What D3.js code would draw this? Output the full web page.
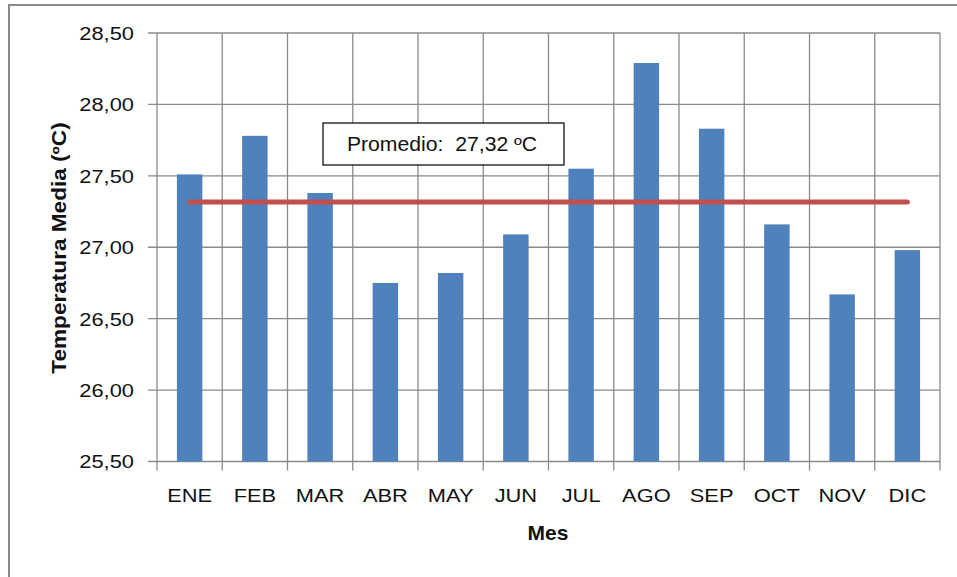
<!DOCTYPE html>
<html>
<head>
<meta charset="utf-8">
<script src="https://cdn.jsdelivr.net/npm/d3@7"></script>
<style>
  body { margin: 0; background: #fff; }
  text { font-family: "Liberation Sans", Arial, sans-serif; fill: #111; }
</style>
</head>
<body>
<div id="chart"></div>
<script>
//Data
const months = ["ENE", "FEB", "MAR", "ABR", "MAY", "JUN", "JUL", "AGO", "SEP", "OCT", "NOV", "DIC"];
const temps = [27.51, 27.78, 27.38, 26.75, 26.82, 27.09, 27.55, 28.29, 27.83, 27.16, 26.67, 26.98];
const yTicks = [25.5, 26.0, 26.5, 27.0, 27.5, 28.0, 28.5];

//Size
const W = 957, H = 577;
const plot = { left: 157, top: 33, right: 940, bottom: 461.5 };
//text in the source is a bit wider than Arial
const stretch = 1.15;

const svg = d3.select("#chart").append("svg")
              .attr("width", W)
              .attr("height", H);

//Outer frame (runs off right and bottom)
svg.append("path")
   .attr("d", "M9," + H + " L9,5 L" + W + ",5")
   .attr("fill", "none")
   .attr("stroke", "#8a8a8a")
   .attr("stroke-width", 2);

//Scales
const xScale = d3.scaleBand()
                 .domain(months)
                 .range([plot.left, plot.right])
                 .paddingInner(0.61)
                 .paddingOuter(0.305);
const step = xScale.step();
const yScale = d3.scaleLinear()
                 .domain([25.5, 28.5])
                 .range([plot.bottom, plot.top]);

const fmt = v => d3.format(".2f")(v).replace(".", ",");

//Horizontal grid + y ticks
svg.append("g")
   .selectAll("line")
   .data(yTicks)
   .enter().append("line")
    .attr("x1", plot.left - 9)
    .attr("x2", plot.right)
    .attr("y1", d => yScale(d))
    .attr("y2", d => yScale(d))
    .attr("stroke", "#8a8a8a")
    .attr("stroke-width", 1.3);

//Vertical grid at category boundaries
const bounds = d3.range(months.length + 1);
svg.append("g")
   .selectAll("line")
   .data(bounds)
   .enter().append("line")
    .attr("x1", i => plot.left + i * step)
    .attr("x2", i => plot.left + i * step)
    .attr("y1", plot.top)
    .attr("y2", plot.bottom + 9)
    .attr("stroke", "#8a8a8a")
    .attr("stroke-width", 1.3);

//Bars
svg.append("g")
   .selectAll("rect")
   .data(temps)
   .enter().append("rect")
    .attr("x", (d, i) => xScale(months[i]))
    .attr("width", xScale.bandwidth())
    .attr("y", d => yScale(d))
    .attr("height", d => yScale(25.5) - yScale(d))
    .attr("fill", "#4f81bd");

//Average line
const avg = d3.mean(temps);
svg.append("line")
   .attr("x1", xScale(months[0]) + xScale.bandwidth() / 2)
   .attr("x2", xScale(months[months.length - 1]) + xScale.bandwidth() / 2)
   .attr("y1", yScale(avg))
   .attr("y2", yScale(avg))
   .attr("stroke", "#c0504d")
   .attr("stroke-width", 5)
   .attr("stroke-linecap", "round");

//Y tick labels
svg.append("g")
   .selectAll("text")
   .data(yTicks)
   .enter().append("text")
    .attr("transform", d => "translate(134," + yScale(d) + ") scale(" + stretch + ",1)")
    .attr("dy", "0.36em")
    .attr("text-anchor", "end")
    .attr("font-size", "19px")
    .text(d => fmt(d));

//X labels
svg.append("g")
   .selectAll("text")
   .data(months)
   .enter().append("text")
    .attr("transform", d => "translate(" + (xScale(d) + xScale.bandwidth() / 2) + ",502) scale(" + stretch + ",1)")
    .attr("text-anchor", "middle")
    .attr("font-size", "19px")
    .text(d => d);

//Axis titles
svg.append("text")
   .attr("transform", "translate(66,248) rotate(-90) scale(1.13,1)")
   .attr("text-anchor", "middle")
   .attr("font-size", "20px")
   .attr("font-weight", "bold")
   .text("Temperatura Media (ºC)");

svg.append("text")
   .attr("transform", "translate(548,540) scale(1.05,1)")
   .attr("text-anchor", "middle")
   .attr("font-size", "20px")
   .attr("font-weight", "bold")
   .text("Mes");

//Average label box
svg.append("rect")
   .attr("x", 323)
   .attr("y", 123)
   .attr("width", 241)
   .attr("height", 42)
   .attr("fill", "#fff")
   .attr("stroke", "#111")
   .attr("stroke-width", 1.3);
svg.append("text")
   .attr("transform", "translate(442,151) scale(1.06,1)")
   .attr("text-anchor", "middle")
   .attr("font-size", "20px")
   .attr("xml:space", "preserve")
   .text("Promedio:  " + fmt(avg) + " ºC");
</script>
</body>
</html>
